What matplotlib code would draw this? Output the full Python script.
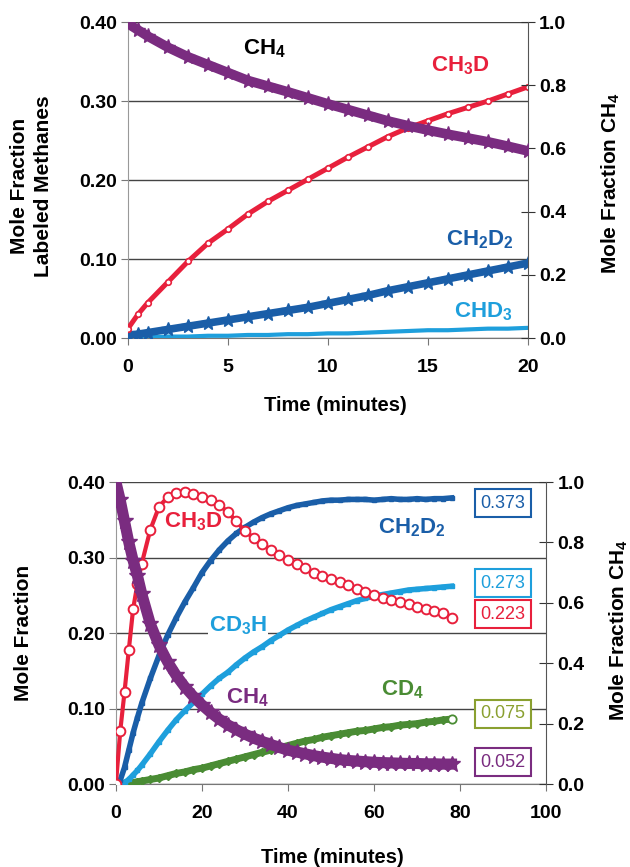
import numpy as np
import matplotlib
matplotlib.use("Agg")
import matplotlib.pyplot as plt

plt.rcParams['font.family'] = ['Liberation Sans', 'DejaVu Sans']
plt.rcParams['font.weight'] = 'bold'
plt.rcParams['axes.labelweight'] = 'bold'
plt.rcParams['mathtext.fontset'] = 'custom'
plt.rcParams['mathtext.bf'] = 'Liberation Sans:bold'
plt.rcParams['mathtext.rm'] = 'Liberation Sans'
plt.rcParams['mathtext.default'] = 'bf'

# ---- top panel data (time in minutes, 0-20) ----
t_top = [0, 0.5, 1, 2, 3, 4, 5, 6, 7, 8, 9, 10, 11, 12, 13, 14, 15, 16, 17, 18, 19, 20]
ch3d_top = [0.012, 0.030, 0.045, 0.071, 0.097, 0.120, 0.138, 0.157, 0.173, 0.187, 0.201,
            0.215, 0.229, 0.242, 0.255, 0.266, 0.275, 0.284, 0.292, 0.300, 0.309, 0.318]
ch2d2_top = [0.004, 0.005, 0.007, 0.011, 0.015, 0.019, 0.023, 0.027, 0.031, 0.035, 0.039,
             0.044, 0.049, 0.054, 0.060, 0.065, 0.070, 0.075, 0.080, 0.085, 0.090, 0.095]
chd3_top = [0.001, 0.001, 0.001, 0.002, 0.002, 0.003, 0.003, 0.004, 0.004, 0.005, 0.005,
            0.006, 0.006, 0.007, 0.008, 0.009, 0.010, 0.010, 0.011, 0.012, 0.012, 0.013]
ch4_top = [0.995, 0.975, 0.955, 0.920, 0.890, 0.865, 0.840, 0.815, 0.797, 0.779, 0.760,
           0.741, 0.723, 0.705, 0.687, 0.672, 0.658, 0.645, 0.633, 0.621, 0.607, 0.592]

# ---- bottom panel data (time in minutes, 0-78) ----
t_bot = [0, 1, 2, 3, 4, 5, 6, 8, 10, 12, 14, 16, 18, 20, 22, 24, 26, 28, 30, 32, 34, 36,
         38, 40, 42, 44, 46, 48, 50, 52, 54, 56, 58, 60, 62, 64, 66, 68, 70, 72, 74, 76, 78]
ch3d_bot = [0.0, 0.070, 0.122, 0.178, 0.232, 0.265, 0.292, 0.337, 0.367, 0.380, 0.386,
            0.387, 0.384, 0.380, 0.376, 0.370, 0.360, 0.348, 0.335, 0.326, 0.318, 0.310,
            0.303, 0.297, 0.292, 0.286, 0.280, 0.276, 0.272, 0.268, 0.263, 0.258, 0.254,
            0.250, 0.247, 0.244, 0.241, 0.238, 0.235, 0.232, 0.229, 0.226, 0.220]
ch2d2_bot = [0.0, 0.005, 0.022, 0.045, 0.068, 0.088, 0.107, 0.140, 0.170, 0.197, 0.220,
             0.241, 0.260, 0.280, 0.296, 0.310, 0.322, 0.332, 0.340, 0.347, 0.353, 0.358,
             0.362, 0.366, 0.369, 0.371, 0.373, 0.375, 0.376, 0.376, 0.377, 0.377, 0.377,
             0.376, 0.377, 0.378, 0.377, 0.377, 0.378, 0.377, 0.378, 0.378, 0.379]
cd3h_bot = [0.0, 0.0, 0.002, 0.006, 0.012, 0.018, 0.025, 0.040, 0.056, 0.071, 0.085,
            0.097, 0.108, 0.119, 0.130, 0.140, 0.148, 0.158, 0.167, 0.175, 0.182, 0.190,
            0.197, 0.204, 0.210, 0.216, 0.221, 0.226, 0.231, 0.235, 0.239, 0.243, 0.246,
            0.249, 0.251, 0.253, 0.255, 0.257, 0.258, 0.259, 0.260, 0.261, 0.262]
cd4_bot = [0.0, 0.0, 0.001, 0.001, 0.002, 0.003, 0.004, 0.006, 0.008, 0.011, 0.014,
           0.016, 0.019, 0.021, 0.024, 0.027, 0.030, 0.033, 0.036, 0.039, 0.042, 0.045,
           0.048, 0.051, 0.054, 0.057, 0.059, 0.062, 0.064, 0.066, 0.068, 0.070, 0.071,
           0.073, 0.075, 0.076, 0.078, 0.079, 0.080, 0.082, 0.083, 0.085, 0.086]
ch4_bot = [1.0, 0.940, 0.870, 0.800, 0.740, 0.690, 0.630, 0.530, 0.460, 0.405, 0.360,
           0.322, 0.290, 0.262, 0.237, 0.215, 0.196, 0.180, 0.165, 0.152, 0.141, 0.131,
           0.121, 0.112, 0.106, 0.100, 0.094, 0.089, 0.085, 0.081, 0.078, 0.076, 0.074,
           0.072, 0.071, 0.070, 0.069, 0.068, 0.068, 0.067, 0.067, 0.066, 0.066]

box_labels = ['0.373', '0.273', '0.223', '0.075', '0.052']

RED = '#e8203c'
PURPLE = '#7a2c80'
DBLUE = '#1a5ea8'
LBLUE = '#1e9fdc'
GREEN = '#4a8c34'
OLIVE = '#8aa030'
GRID = '#444444'


def style_axes(ax, ax2, xmax, xticks, fs=14):
    ax.set_ylim(0, 0.4)
    ax.set_yticks([0, 0.1, 0.2, 0.3, 0.4])
    ax.set_yticklabels(['0.00', '0.10', '0.20', '0.30', '0.40'])
    ax.set_xlim(0, xmax)
    ax.set_xticks(xticks)
    ax.grid(axis='y', color=GRID, lw=1.0)
    ax.set_axisbelow(True)
    for s in ['top', 'right']:
        ax.spines[s].set_visible(False)
    ax.spines['left'].set_color('#999999')
    ax.spines['bottom'].set_color('#777777')
    ax.tick_params(axis='y', length=5, color='#777777', labelsize=fs, pad=3)
    ax.tick_params(axis='x', direction='out', length=5, color='#777777', labelsize=fs, pad=10)
    ax2.set_ylim(0, 1.0)
    ax2.set_yticks([0, 0.2, 0.4, 0.6, 0.8, 1.0])
    ax2.set_yticklabels(['0.0', '0.2', '0.4', '0.6', '0.8', '1.0'])
    for s in ['top', 'left', 'bottom']:
        ax2.spines[s].set_visible(False)
    ax2.spines['right'].set_color('#555555')
    ax2.tick_params(axis='y', direction='inout', length=10, color='#333333', labelsize=fs, pad=3)


fig = plt.figure(figsize=(6.3, 8.67), dpi=100)

# ================= top panel =================
ax = fig.add_axes([0.203, 0.610, 0.635, 0.3646])
ax2 = ax.twinx()
style_axes(ax, ax2, 20, [0, 5, 10, 15, 20])

ax.plot(t_top, chd3_top, color=LBLUE, lw=3, marker='_', ms=5, mew=1.5, zorder=3)
ax.plot(t_top, ch2d2_top, color=DBLUE, lw=5.5, marker='*', ms=10, zorder=4)
ax.plot(t_top, ch3d_top, color=RED, lw=3.6, marker='o', ms=4, mfc='white', mec=RED, mew=1.2, zorder=5)
ax2.plot(t_top, ch4_top, color=PURPLE, lw=7, marker='*', ms=11, zorder=5)

ax.text(6.85, 0.366, 'CH$_4$', color='black', fontsize=16, ha='center', va='center')
ax.text(16.6, 0.345, 'CH$_3$D', color=RED, fontsize=16, ha='center', va='center')
ax.text(17.6, 0.124, 'CH$_2$D$_2$', color=DBLUE, fontsize=16, ha='center', va='center')
ax.text(17.75, 0.034, 'CHD$_3$', color=LBLUE, fontsize=16, ha='center', va='center')

ax.set_ylabel('Mole Fraction\nLabeled Methanes', fontsize=15, linespacing=1.3)
ax.yaxis.set_label_coords(-0.188, 0.48)
ax2.set_ylabel('Mole Fraction CH$_4$', fontsize=15)
ax2.yaxis.set_label_coords(1.18, 0.49)
ax.set_xlabel('Time (minutes)', fontsize=14.5)
ax.xaxis.set_label_coords(0.5175, -0.183)

# ================= bottom panel =================
bx = fig.add_axes([0.184, 0.0957, 0.683, 0.3483])
bx2 = bx.twinx()
style_axes(bx, bx2, 100, [0, 20, 40, 60, 80, 100])

bx.plot(t_bot, cd4_bot, color=GREEN, lw=5, marker='D', ms=4, mfc=GREEN, zorder=3)
bx.plot(t_bot[-1:], cd4_bot[-1:], ls='none', marker='o', ms=6, mfc='white', mec=GREEN, mew=1.3, zorder=6)
bx.plot(t_bot, cd3h_bot, color=LBLUE, lw=4, marker='s', ms=3, zorder=3)
bx.plot(t_bot, ch2d2_bot, color=DBLUE, lw=4, marker='s', ms=3, zorder=4)
bx.plot(t_bot, ch3d_bot, color=RED, lw=3, marker='o', ms=7, mfc='white', mec=RED, mew=1.4, zorder=5)
bx2.plot(t_bot, ch4_bot, color=PURPLE, lw=8, marker='*', ms=12, zorder=5)

wbox = dict(facecolor='white', edgecolor='none', pad=0.5)
bx.text(17.9, 0.347, 'CH$_3$D', color=RED, fontsize=16, ha='center', va='center')
bx.text(68.8, 0.339, 'CH$_2$D$_2$', color=DBLUE, fontsize=16, ha='center', va='center')
bx.text(28.4, 0.21, 'CD$_3$H', color=LBLUE, fontsize=16, ha='center', va='center', bbox=wbox)
bx.text(30.5, 0.115, 'CH$_4$', color=PURPLE, fontsize=16, ha='center', va='center')
bx.text(66.5, 0.125, 'CD$_4$', color=GREEN, fontsize=16, ha='center', va='center')

box_y = [0.372, 0.266, 0.225, 0.093, 0.029]
box_colors = [DBLUE, LBLUE, RED, OLIVE, PURPLE]
for lab, yv, c in zip(box_labels, box_y, box_colors):
    bx.text(90, yv, lab, color=c, fontsize=13, fontweight='normal', ha='center', va='center',
            bbox=dict(boxstyle='square,pad=0.3', facecolor='white', edgecolor=c, lw=1.5),
            clip_on=False, zorder=7)

bx.set_ylabel('Mole Fraction', fontsize=15)
bx.yaxis.set_label_coords(-0.193, 0.5)
bx2.set_ylabel('Mole Fraction CH$_4$', fontsize=15)
bx2.yaxis.set_label_coords(1.142, 0.51)
bx.set_xlabel('Time (minutes)', fontsize=14.5)
bx.xaxis.set_label_coords(0.502, -0.213)

fig.savefig('out.png', dpi=100)
